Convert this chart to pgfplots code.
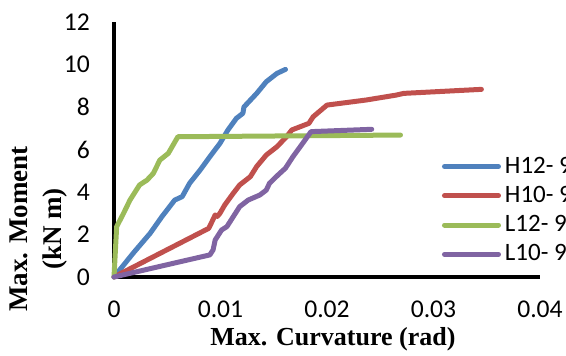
\documentclass[border=0pt]{standalone}
\usepackage{fontspec}
\setmainfont{Liberation Serif}
\newfontfamily\calibri{Carlito}
\usepackage{pgfplots}
\pgfplotsset{compat=1.18}
\definecolor{cblue}{HTML}{4F81BD}
\definecolor{cred}{HTML}{C0504D}
\definecolor{cgreen}{HTML}{9BBB59}
\definecolor{cpurple}{HTML}{8064A2}
\begin{document}
\begin{tikzpicture}
\begin{axis}[
  at={(0,0)}, anchor=south west,
  scale only axis, width=213pt, height=127.5pt,
  xmin=0, xmax=0.04, ymin=0, ymax=12,
  axis x line=bottom, axis y line=left,
  axis line style={-, line width=1.6pt, black},
  major tick length=0pt,
  xtick={0,0.01,0.02,0.03,0.04},
  xticklabels={0,0.01,0.02,0.03,0.04},
  scaled x ticks=false,
  ytick={0,2,4,6,8,10,12},
  /pgf/number format/assume math mode=true,
  ticklabel style={font=\calibri\fontsize{12.8}{12.8}\selectfont},
  xticklabel style={yshift=-8.5pt},
  yticklabel style={xshift=-8.5pt},
  xlabel={\textbf{Max. Curvature (rad)}},
  xlabel style={at={(axis description cs:0.514,0)}, anchor=center, yshift=-31pt, font=\fontsize{13}{13}\selectfont},
  ylabel={\textbf{Max. Moment}\\\textbf{(kN m)}},
  ylabel style={at={(axis description cs:-0.178,0.188)}, anchor=center, align=center, font=\fontsize{13.5}{17}\selectfont},
  clip=false,
  legend style={at={(rel axis cs:0.769,0.488)}, anchor=north west, draw=none, fill=none,
    font=\calibri\fontsize{12.5}{12.5}\selectfont, inner sep=0pt, row sep=1.0pt,
    cells={anchor=west}},
  legend image code/.code={\draw[#1, line width=2.5pt, line cap=round] (0pt,0pt) -- (27pt,0pt);},
  every axis plot/.append style={line width=2.5pt, line join=round, line cap=round, mark=none},
]
\addplot[cblue] coordinates {(0,0) (0.0018,1.12) (0.0034,2.06) (0.0045,2.84) (0.0057,3.62) (0.0064,3.78) (0.0071,4.41) (0.0081,5.04) (0.009,5.66) (0.00995,6.29) (0.0107,6.92) (0.0115,7.47) (0.0121,7.7) (0.0122,8.0) (0.0134,8.64) (0.0143,9.19) (0.0153,9.58) (0.0161,9.77)};
\addlegendentry{H12- 9}
\addplot[cred] coordinates {(0,0) (0.0089,2.29) (0.0095,2.92) (0.0097,2.85) (0.00995,3.0) (0.0104,3.39) (0.0112,3.94) (0.0118,4.33) (0.0128,4.72) (0.0134,5.2) (0.0143,5.74) (0.0153,6.13) (0.0162,6.6) (0.0167,6.92) (0.0183,7.23) (0.0187,7.54) (0.02,8.09) (0.0237,8.33) (0.0265,8.56) (0.0272,8.64) (0.0345,8.83)};
\addlegendentry{H10- 9}
\addplot[cgreen] coordinates {(0,0) (0.00025,2.37) (0.0009,3.0) (0.0015,3.62) (0.0024,4.33) (0.0031,4.56) (0.0037,4.88) (0.0043,5.5) (0.0051,5.82) (0.006,6.6) (0.0269,6.68)};
\addlegendentry{L12- 9}
\addplot[cpurple] coordinates {(0,0) (0.009,1.04) (0.0093,1.27) (0.0095,1.74) (0.0101,2.21) (0.0106,2.37) (0.0112,2.84) (0.0118,3.31) (0.0126,3.62) (0.0137,3.86) (0.0143,4.09) (0.0146,4.41) (0.0154,4.8) (0.0161,5.12) (0.0168,5.66) (0.0176,6.21) (0.0185,6.84) (0.0242,6.95)};
\addlegendentry{L10- 9}
\end{axis}
\pgfresetboundingbox
\useasboundingbox (-57pt,-39.5pt) rectangle (226pt,138.5pt);
\end{tikzpicture}
\end{document}
